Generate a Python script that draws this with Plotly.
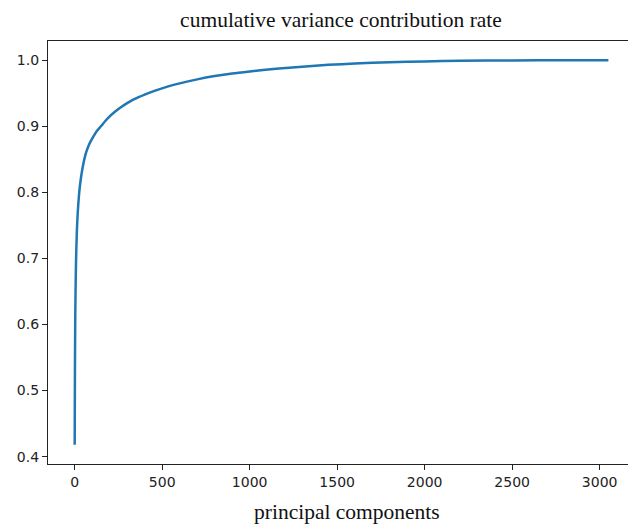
import plotly.graph_objects as go

# values
components = [0, 1, 2, 3, 4, 6, 8, 10, 13, 16, 20, 25, 30, 38, 45, 55, 65, 80, 95, 110,
              130, 150, 175, 200, 230, 260, 300, 340, 400, 460, 530, 600, 700, 800, 900,
              1000, 1150, 1300, 1450, 1600, 1800, 2000, 2200, 2500, 2800, 3050]
cum_rate = [0.418, 0.50, 0.56, 0.60, 0.63, 0.67, 0.70, 0.72, 0.745, 0.762, 0.780, 0.797,
            0.810, 0.826, 0.837, 0.850, 0.860, 0.871, 0.879, 0.886,
            0.894, 0.900, 0.908, 0.915, 0.922, 0.928, 0.935, 0.941, 0.948, 0.954, 0.960,
            0.965, 0.971, 0.976, 0.980,
            0.983, 0.987, 0.990, 0.993, 0.995, 0.997, 0.998, 0.9992, 0.9997, 1.0, 1.0]

x_ticks = [0, 500, 1000, 1500, 2000, 2500, 3000]
y_ticks = [0.4, 0.5, 0.6, 0.7, 0.8, 0.9, 1.0]

fig = go.Figure()
fig.add_trace(go.Scatter(
    x=components, y=cum_rate, mode="lines",
    line=dict(color="#1f77b4", width=2.5, shape="spline", smoothing=0.7),
    hoverinfo="skip", showlegend=False,
))

tickfont = dict(family="DejaVu Sans", size=14, color="#222222")

fig.update_layout(
    width=628, height=525,
    margin=dict(l=48, r=0, t=41, b=61),
    paper_bgcolor="white", plot_bgcolor="white",
    title=dict(text="cumulative variance contribution rate",
               font=dict(family="Liberation Serif", size=21.5, color="#111111"),
               x=341 / 628, xanchor="center", xref="container",
               y=1 - 19 / 525, yanchor="middle", yref="container"),
    xaxis=dict(range=[-152.5, 3162], tickvals=x_ticks, ticktext=[str(v) for v in x_ticks],
               showgrid=False, zeroline=False, showline=True, linecolor="#222222",
               linewidth=1.3, mirror=True, ticks="outside", ticklen=5, tickwidth=1.2,
               tickcolor="#222222", tickfont=tickfont),
    yaxis=dict(range=[0.3889, 1.0291], tickvals=y_ticks, ticktext=[f"{v:.1f}" for v in y_ticks],
               showgrid=False, zeroline=False, showline=True, linecolor="#222222",
               linewidth=1.3, ticks="outside", ticklen=5, tickwidth=1.2,
               tickcolor="#222222", tickfont=tickfont),
    annotations=[dict(text="principal components", xref="paper", yref="paper",
                      x=(347 - 48) / 580, y=-(512 - 464) / 423,
                      xanchor="center", yanchor="middle", showarrow=False,
                      font=dict(family="Liberation Serif", size=21.5, color="#111111"))],
)

fig.write_html("out.html")
